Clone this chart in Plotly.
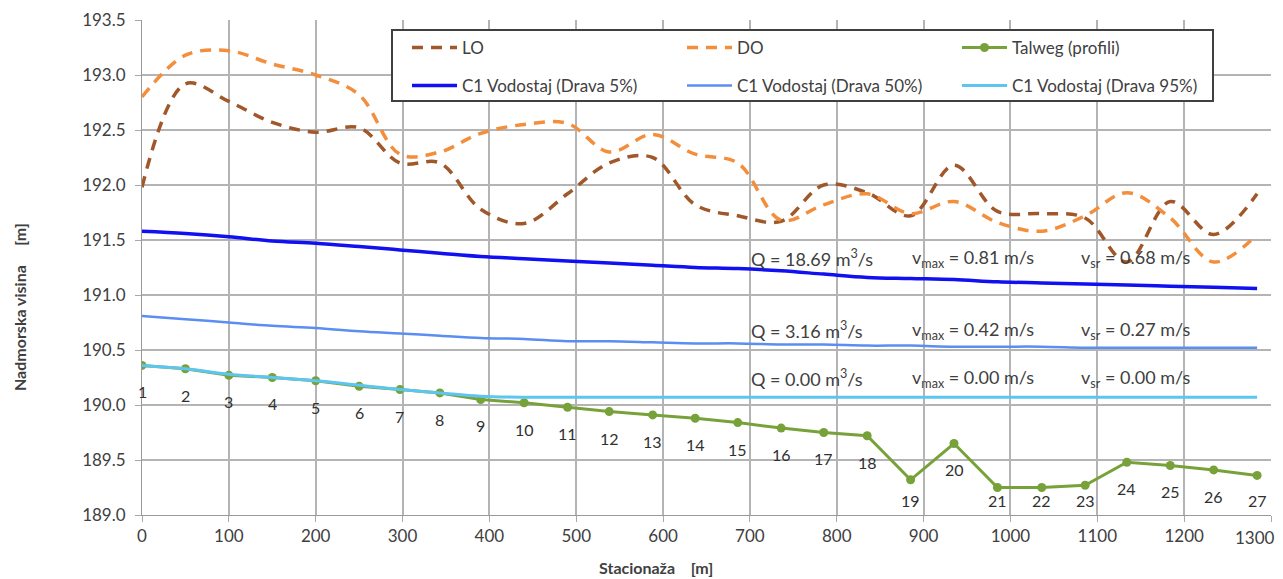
import plotly.graph_objects as go

# ---- data ----
stations = [0, 50, 100, 150, 200, 250, 297, 343, 390, 440, 490, 538, 588, 637,
            686, 736, 785, 835, 885, 935, 985, 1036, 1086, 1134, 1184, 1234, 1284]
profile_labels = [str(i) for i in range(1, 28)]

talweg = [190.36, 190.33, 190.27, 190.25, 190.22, 190.17, 190.14, 190.11, 190.05,
          190.02, 189.98, 189.94, 189.91, 189.88, 189.84, 189.79, 189.75, 189.72,
          189.32, 189.65, 189.25, 189.25, 189.27, 189.48, 189.45, 189.41, 189.36]

lo = [191.98, 192.92, 192.76, 192.57, 192.48, 192.52, 192.20, 192.20, 191.78,
      191.65, 191.92, 192.20, 192.25, 191.82, 191.72, 191.67, 192.00, 191.93,
      191.72, 192.18, 191.76, 191.74, 191.70, 191.30, 191.85, 191.55, 191.92]

do = [192.80, 193.18, 193.22, 193.10, 193.00, 192.82, 192.28, 192.30, 192.47,
      192.55, 192.56, 192.30, 192.46, 192.28, 192.20, 191.68, 191.82, 191.92,
      191.74, 191.85, 191.66, 191.58, 191.72, 191.93, 191.70, 191.30, 191.55]

wl5 = [191.58, 191.56, 191.53, 191.49, 191.47, 191.44, 191.41, 191.38, 191.35,
       191.33, 191.31, 191.29, 191.27, 191.25, 191.24, 191.22, 191.19, 191.16,
       191.15, 191.14, 191.12, 191.11, 191.10, 191.09, 191.08, 191.07, 191.06]

wl50 = [190.81, 190.78, 190.75, 190.72, 190.70, 190.67, 190.65, 190.63, 190.61,
        190.60, 190.58, 190.58, 190.57, 190.56, 190.56, 190.55, 190.55, 190.54,
        190.54, 190.53, 190.53, 190.53, 190.52, 190.52, 190.52, 190.52, 190.52]

wl95 = [190.36, 190.33, 190.28, 190.25, 190.22, 190.18, 190.14, 190.11, 190.08,
        190.07, 190.07, 190.07, 190.07, 190.07, 190.07, 190.07, 190.07, 190.07,
        190.07, 190.07, 190.07, 190.07, 190.07, 190.07, 190.07, 190.07, 190.07]

x_ticks = [0, 100, 200, 300, 400, 500, 600, 700, 800, 900, 1000, 1100, 1200, 1300]

flow_rows = [
    ("Q = 18.69 m<sup>3</sup>/s", "v<sub>max</sub> = 0.81 m/s", "v<sub>sr</sub> = 0.68 m/s"),
    ("Q = 3.16 m<sup>3</sup>/s", "v<sub>max</sub> = 0.42 m/s", "v<sub>sr</sub> = 0.27 m/s"),
    ("Q = 0.00 m<sup>3</sup>/s", "v<sub>max</sub> = 0.00 m/s", "v<sub>sr</sub> = 0.00 m/s"),
]

# ---- layout geometry (page pixels; the html body adds an 8px margin) ----
PAGE_W, PAGE_H = 1283, 579
BODY = 8
W, H = PAGE_W - BODY, PAGE_H - BODY
PL, PR, PT, PB = 142, 1271, 20, 515          # plot area in page pixels
L, T = PL - BODY, PT - BODY
R, B = PAGE_W - PR, PAGE_H - PB
PW, PH = PR - PL, PB - PT


def px(x):
    return (x - PL) / PW


def py(y):
    return (PB - y) / PH


FONT = "Lato"
TXT = "#404040"
NB = "\u00a0"

# last tick label is pulled inward (as Excel does): drawn separately, right-aligned
x_ticktext = [str(v) for v in x_ticks]
last_tick_label = x_ticktext[-1]
x_ticktext[-1] = ""

fig = go.Figure()

fig.add_trace(go.Scatter(x=stations, y=lo, name="LO", mode="lines",
                         line=dict(color="#A0572A", width=3.5, dash="11px,8px", shape="spline"),
                         legend="legend"))
fig.add_trace(go.Scatter(x=stations, y=do, name="DO", mode="lines",
                         line=dict(color="#F28E3C", width=3.5, dash="11px,8px", shape="spline"),
                         legend="legend"))
fig.add_trace(go.Scatter(x=stations, y=talweg, name="Talweg (profili)", mode="lines+markers",
                         line=dict(color="#77A23A", width=3),
                         marker=dict(symbol="circle", size=9, color="#77A23A"),
                         legend="legend"))
fig.add_trace(go.Scatter(x=stations, y=wl5, name="C1 Vodostaj (Drava 5%)", mode="lines",
                         line=dict(color="#1010F0", width=3.5, shape="spline"),
                         legend="legend2"))
fig.add_trace(go.Scatter(x=stations, y=wl50, name="C1 Vodostaj (Drava 50%)", mode="lines",
                         line=dict(color="#5A8EF2", width=2.5, shape="spline"),
                         legend="legend2"))
fig.add_trace(go.Scatter(x=stations, y=wl95, name="C1 Vodostaj (Drava 95%)", mode="lines",
                         line=dict(color="#5CC6F0", width=3, shape="spline"),
                         legend="legend2"))

annotations = []
# profile number labels below the talweg points (kept inside the plot like Excel)
for xs, ys, lab in zip(stations, talweg, profile_labels):
    annotations.append(dict(x=xs, y=max(ys - 0.24, 189.13), xref="x", yref="y",
                            xanchor="center", yanchor="middle",
                            text=lab, showarrow=False,
                            font=dict(family=FONT, size=16, color="#303030")))

row_y = [258, 330, 378]
col_x = [749, 910, 1079]
for ry, row in zip(row_y, flow_rows):
    for cx, txt in zip(col_x, row):
        annotations.append(dict(x=px(cx), y=py(ry), xref="paper", yref="paper",
                                xanchor="left", yanchor="middle", text=txt, showarrow=False,
                                font=dict(family=FONT, size=18, color=TXT)))

annotations.append(dict(x=x_ticks[-1], y=py(537), xref="x", yref="paper",
                        xanchor="right", yanchor="middle", xshift=6,
                        text=last_tick_label, showarrow=False,
                        font=dict(family=FONT, size=17, color=TXT)))

annotations.append(dict(x=px(656), y=py(567), xref="paper", yref="paper",
                        xanchor="center", yanchor="middle",
                        text="<b>Stacionaža" + NB * 4 + "[m]</b>", showarrow=False,
                        font=dict(family=FONT, size=16, color=TXT)))
annotations.append(dict(x=px(19), y=py(307), xref="paper", yref="paper", textangle=-90,
                        xanchor="center", yanchor="middle",
                        text="<b>Nadmorska visina" + NB * 5 + "[m]</b>", showarrow=False,
                        font=dict(family=FONT, size=16, color=TXT)))

legend_common = dict(orientation="h", xanchor="left", yanchor="middle",
                     bgcolor="rgba(0,0,0,0)", borderwidth=0,
                     font=dict(family=FONT, size=17, color=TXT),
                     entrywidth=215, entrywidthmode="pixels", itemwidth=45)

axis_common = dict(showgrid=True, gridcolor="#B4B4B4", gridwidth=1.5, zeroline=False,
                   showline=True, linecolor="#9A9A9A", linewidth=1,
                   ticks="outside", ticklen=6, tickcolor="#A8A8A8", automargin=False,
                   tickfont=dict(family=FONT, size=17, color=TXT))

fig.update_layout(
    width=W, height=H,
    margin=dict(l=L, r=R, t=T, b=B),
    paper_bgcolor="white", plot_bgcolor="white",
    font=dict(family=FONT, size=16, color=TXT),
    showlegend=True,
    legend=dict(x=px(407), y=py(48), **legend_common),
    legend2=dict(x=px(407), y=py(86), **legend_common),
    xaxis=dict(range=[0, 1300], tickmode="array", tickvals=x_ticks, ticktext=x_ticktext,
               **axis_common),
    yaxis=dict(range=[189.0, 193.5], dtick=0.5, tick0=189.0, tickformat=".1f",
               ticklabelstandoff=6, **axis_common),
    annotations=annotations,
    shapes=[dict(type="rect", xref="paper", yref="paper",
                 x0=px(392), x1=px(1213), y0=py(101), y1=py(30),
                 line=dict(color="#404040", width=2), fillcolor="white", layer="above")],
)

fig.write_html("out.html")
